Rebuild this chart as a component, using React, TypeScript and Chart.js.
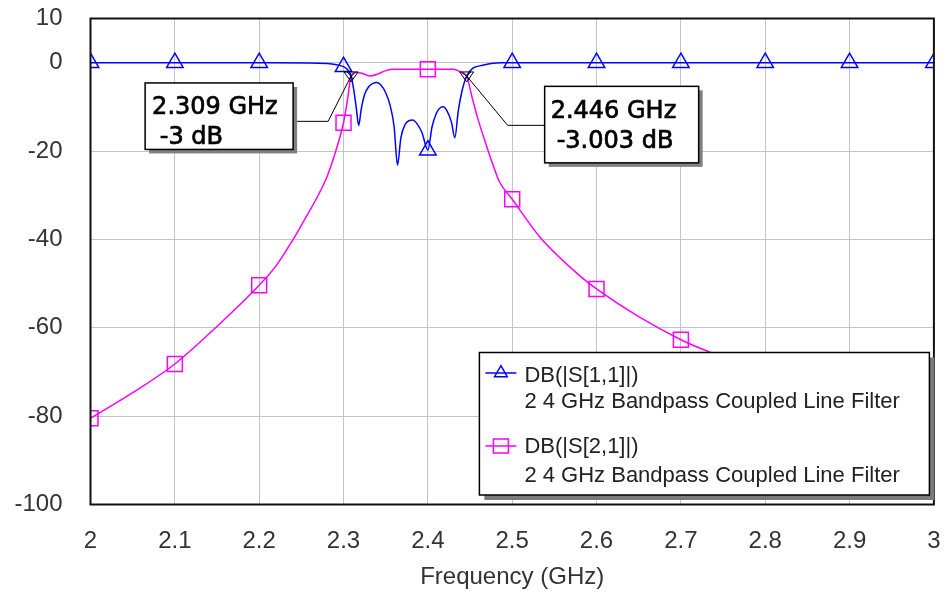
import React, { useEffect, useRef } from 'react';
import { Chart, registerables } from 'chart.js';

Chart.register(...registerables);

// ---- data ----
const xTickValues = [2, 2.1, 2.2, 2.3, 2.4, 2.5, 2.6, 2.7, 2.8, 2.9, 3];
const yTickValues = [10, 0, -20, -40, -60, -80, -100];

const s11Freq = [
  2.0, 2.1, 2.2, 2.26, 2.28, 2.29, 2.3, 2.305, 2.309, 2.312, 2.315, 2.318, 2.321, 2.325,
  2.33, 2.335, 2.339, 2.344, 2.35, 2.355, 2.36, 2.364, 2.368, 2.373, 2.378, 2.382, 2.387,
  2.393, 2.4, 2.405, 2.41, 2.414, 2.418, 2.423, 2.428, 2.432, 2.436, 2.44, 2.446, 2.453,
  2.465, 2.475, 2.487, 2.5, 2.6, 2.7, 2.8, 2.9, 3.0,
];
const s11Db = [
  0, 0, 0, -0.05, -0.2, -0.4, -0.9, -1.6, -3, -6, -10, -14.2, -10.5, -7.2,
  -5.4, -4.7, -4.5, -5, -6.8, -9.5, -14.5, -23.2, -17, -14, -13.1, -13, -13.8,
  -15.8, -19.8, -14.5, -11.5, -10.3, -10, -11, -13.5, -17, -11, -6.8, -3, -1.3,
  -0.6, -0.2, 0, 0, 0, 0, 0, 0, 0,
];

const s21Freq = [
  2.0, 2.05, 2.1, 2.15, 2.2, 2.22, 2.24, 2.256, 2.27, 2.28, 2.29, 2.3, 2.305, 2.309,
  2.315, 2.322, 2.331, 2.34, 2.35, 2.36, 2.4, 2.43, 2.437, 2.442, 2.446, 2.452, 2.459,
  2.469, 2.477, 2.485, 2.5, 2.533, 2.58, 2.6, 2.65, 2.7, 2.737, 2.8, 2.85, 2.9, 2.95, 3.0,
];
const s21Db = [
  -80.5, -74.7, -68.2, -59.7, -50.4, -46, -40.1, -34.8, -30, -26, -20.5, -13.6, -8, -3,
  -2.2, -2.4, -3.0, -2.6, -1.8, -1.5, -1.5, -1.5, -1.9, -2.5, -3.0, -7.5, -12.5,
  -18.5, -23, -27, -30.9, -39.5, -48.2, -51.2, -57.5, -62.7, -65.7, -69.8, -72.4, -74.4, -75.8, -77,
];

const seriesNames = ['DB(|S[1,1]|)', 'DB(|S[2,1]|)'];
const seriesSubtitle = '2 4 GHz Bandpass Coupled Line Filter';
const markerFreq = [2.309, 2.446];
const markerDb = [-3, -3.003];
const markerText = [
  ['2.309 GHz', ' -3 dB'],
  ['2.446 GHz', '-3.003 dB'],
];
const xTitle = 'Frequency (GHz)';

// ---- style ----
const BLUE = '#0000ff';
const MAGENTA = '#ff00ff';
const AXIS_FONT = '"Liberation Sans", Arial, sans-serif';
const MARKER_FONT = '"DejaVu Sans", Verdana, sans-serif';

const isGridFreq = (x: number) => Math.abs(x * 10 - Math.round(x * 10)) < 1e-6;

const overlayPlugin = {
  id: 'overlay',
  afterDraw(chart: any) {
    const ctx: CanvasRenderingContext2D = chart.ctx;
    const area = chart.chartArea;
    const xs = chart.scales.x;
    const ys = chart.scales.y;
    ctx.save();

    // frame
    ctx.strokeStyle = '#111';
    ctx.lineWidth = 2;
    ctx.strokeRect(area.left, area.top, area.right - area.left, area.bottom - area.top);

    // marker annotations
    const boxes = [
      { dx: -206, dy: 7, w: 148, h: 66.5, lead: [[-58, 45.4], [-23, 45.4]], tx: [7, 7], ty: [30.6, 60.6] },
      { dx: 78, dy: 10.4, w: 154, h: 76.5, lead: [[78, 49.4], [41, 49.4]], tx: [6, 12], ty: [32, 61.5] },
    ];
    markerFreq.forEach((f, i) => {
      const mx = xs.getPixelForValue(f);
      const my = ys.getPixelForValue(markerDb[i]);
      const b = boxes[i];
      // leader line
      ctx.strokeStyle = '#000';
      ctx.lineWidth = 1;
      ctx.beginPath();
      ctx.moveTo(mx + b.lead[0][0], my + b.lead[0][1]);
      ctx.lineTo(mx + b.lead[1][0], my + b.lead[1][1]);
      ctx.lineTo(mx, my);
      ctx.stroke();
      // inverted triangle marker
      ctx.beginPath();
      ctx.moveTo(mx - 7, my - 4);
      ctx.lineTo(mx + 7, my - 4);
      ctx.lineTo(mx, my + 6);
      ctx.closePath();
      ctx.stroke();
      ctx.beginPath();
      ctx.moveTo(mx - 4, my - 4);
      ctx.lineTo(mx + 2, my + 3);
      ctx.moveTo(mx + 4, my - 4);
      ctx.lineTo(mx - 2, my + 3);
      ctx.stroke();
      // box
      const bx = mx + b.dx;
      const by = my + b.dy;
      ctx.fillStyle = '#808080';
      ctx.fillRect(bx + 4, by + 4, b.w, b.h);
      ctx.fillStyle = '#fff';
      ctx.fillRect(bx, by, b.w, b.h);
      ctx.strokeStyle = '#000';
      ctx.lineWidth = 1.5;
      ctx.strokeRect(bx, by, b.w, b.h);
      ctx.fillStyle = '#000';
      ctx.font = `24px ${MARKER_FONT}`;
      ctx.textAlign = 'left';
      ctx.textBaseline = 'alphabetic';
      ctx.lineWidth = 0.7;
      ctx.fillText(markerText[i][0], bx + b.tx[0], by + b.ty[0]);
      ctx.strokeText(markerText[i][0], bx + b.tx[0], by + b.ty[0]);
      ctx.fillText(markerText[i][1], bx + b.tx[1], by + b.ty[1]);
      ctx.strokeText(markerText[i][1], bx + b.tx[1], by + b.ty[1]);
    });

    // legend
    const lw = 450;
    const lh = 142.5;
    const lx = area.right - 4.5 - lw;
    const ly = area.bottom - 9.5 - lh;
    ctx.fillStyle = '#7a7a7a';
    ctx.fillRect(lx + 5, ly + 5, lw, lh);
    ctx.fillStyle = '#fff';
    ctx.fillRect(lx, ly, lw, lh);
    ctx.strokeStyle = '#000';
    ctx.lineWidth = 1.5;
    ctx.strokeRect(lx, ly, lw, lh);

    const entries = [
      { color: BLUE, style: 'triangle', symY: 20.5, base: [29, 55.5] },
      { color: MAGENTA, style: 'rect', symY: 93.5, base: [100.5, 129] },
    ];
    entries.forEach((e, i) => {
      const sy = ly + e.symY;
      ctx.strokeStyle = e.color;
      ctx.lineWidth = 1.5;
      ctx.beginPath();
      ctx.moveTo(lx + 6, sy);
      ctx.lineTo(lx + 37, sy);
      ctx.stroke();
      const cx = lx + 21.5;
      ctx.beginPath();
      if (e.style === 'triangle') {
        const r = 7.3;
        ctx.moveTo(cx, sy - r);
        ctx.lineTo(cx + r * 0.866, sy + r * 0.5);
        ctx.lineTo(cx - r * 0.866, sy + r * 0.5);
        ctx.closePath();
      } else {
        ctx.rect(cx - 7.5, sy - 7, 15, 14);
      }
      ctx.stroke();
      ctx.fillStyle = '#222';
      ctx.font = `22px ${AXIS_FONT}`;
      ctx.textAlign = 'left';
      ctx.textBaseline = 'alphabetic';
      ctx.fillText(seriesNames[i], lx + 45, ly + e.base[0]);
      ctx.fillText(seriesSubtitle, lx + 45, ly + e.base[1]);
    });

    ctx.restore();
  },
};

export default function App() {
  const canvasRef = useRef<HTMLCanvasElement | null>(null);

  useEffect(() => {
    const canvas = canvasRef.current;
    if (!canvas) return;
    const tickFont = { family: AXIS_FONT, size: 24 };
    const chart = new Chart(canvas, {
      type: 'line',
      data: {
        datasets: [
          {
            label: seriesNames[0],
            data: s11Freq.map((x, i) => ({ x, y: s11Db[i] })),
            borderColor: BLUE,
            borderWidth: 1.5,
            pointStyle: 'triangle',
            pointRadius: (c: any) => (c.raw && isGridFreq(c.raw.x) ? 9.5 : 0),
            pointHoverRadius: (c: any) => (c.raw && isGridFreq(c.raw.x) ? 9.5 : 0),
            pointBorderColor: BLUE,
            pointBackgroundColor: 'rgba(0,0,0,0)',
            pointBorderWidth: 1.5,
            cubicInterpolationMode: 'monotone',
            fill: false,
          },
          {
            label: seriesNames[1],
            data: s21Freq.map((x, i) => ({ x, y: s21Db[i] })),
            borderColor: MAGENTA,
            borderWidth: 1.5,
            pointStyle: 'rect',
            pointRadius: (c: any) => (c.raw && isGridFreq(c.raw.x) ? 10.6 : 0),
            pointHoverRadius: (c: any) => (c.raw && isGridFreq(c.raw.x) ? 10.6 : 0),
            pointBorderColor: MAGENTA,
            pointBackgroundColor: 'rgba(0,0,0,0)',
            pointBorderWidth: 1.5,
            cubicInterpolationMode: 'monotone',
            fill: false,
          },
        ],
      },
      options: {
        animation: false,
        responsive: false,
        devicePixelRatio: 1,
        events: [],
        layout: { padding: { left: 0, top: 18.5, right: 11.5, bottom: 0 } },
        plugins: { legend: { display: false }, tooltip: { enabled: false } },
        scales: {
          x: {
            type: 'linear',
            min: 2,
            max: 3,
            afterBuildTicks: (s: any) => {
              s.ticks = xTickValues.map((v) => ({ value: v }));
            },
            afterFit: (s: any) => {
              s.height = 87.5;
              s.paddingLeft = 0;
              s.paddingRight = 0;
            },
            ticks: {
              autoSkip: false,
              maxRotation: 0,
              padding: 22,
              font: tickFont,
              color: '#333',
              callback: (v: any) => String(v),
            },
            grid: { color: '#c4c4c4', lineWidth: 1, drawTicks: false },
            border: { display: false },
            title: {
              display: true,
              text: xTitle,
              font: tickFont,
              color: '#333',
              padding: { top: 0, bottom: 0 },
            },
          },
          y: {
            type: 'linear',
            min: -100,
            max: 10,
            afterBuildTicks: (s: any) => {
              s.ticks = yTickValues.map((v) => ({ value: v }));
            },
            afterFit: (s: any) => {
              s.width = 90.5;
              s.paddingTop = 0;
              s.paddingBottom = 0;
            },
            ticks: {
              autoSkip: false,
              padding: 28,
              font: tickFont,
              color: '#333',
              callback: (v: any) => String(v),
            },
            grid: { color: '#c4c4c4', lineWidth: 1, drawTicks: false },
            border: { display: false },
          },
        },
      },
      plugins: [overlayPlugin],
    } as any);
    return () => chart.destroy();
  }, []);

  return (
    <div style={{ position: 'fixed', left: 0, top: 0, width: 946, height: 592, background: '#fff' }}>
      <canvas ref={canvasRef} width={946} height={592} style={{ width: 946, height: 592, display: 'block' }} />
    </div>
  );
}
